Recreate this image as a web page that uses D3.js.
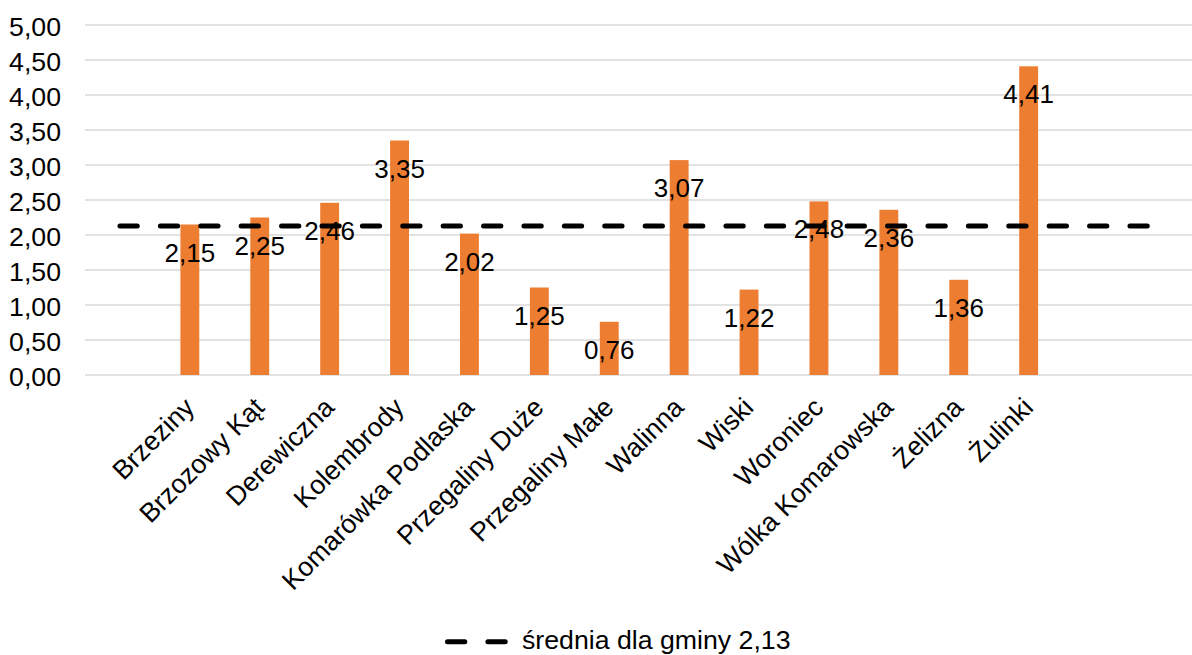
<!DOCTYPE html>
<html>
<head>
<meta charset="utf-8">
<script src="https://cdn.jsdelivr.net/npm/d3@7"></script>
<style>
  html, body { margin: 0; padding: 0; background: #fff; }
  svg { display: block; font-family: "Liberation Sans", Arial, sans-serif; }
</style>
</head>
<body>
<svg id="chart" width="1192" height="655"></svg>
<script>
const categories = ["Brzeziny", "Brzozowy Kąt", "Derewiczna", "Kolembrody", "Komarówka Podlaska",
  "Przegaliny Duże", "Przegaliny Małe", "Walinna", "Wiski", "Woroniec", "Wólka Komarowska",
  "Żelizna", "Żulinki"];
const values = [2.15, 2.25, 2.46, 3.35, 2.02, 1.25, 0.76, 3.07, 1.22, 2.48, 2.36, 1.36, 4.41];
const averageValue = 2.13;
const averageLabel = "średnia dla gminy 2,13";
const yTicks = [0, 0.5, 1, 1.5, 2, 2.5, 3, 3.5, 4, 4.5, 5];
const padBefore = ["pad0"];
const padAfter = ["pad1", "pad2"];

const locale = d3.formatLocale({ decimal: ",", thousands: " ", grouping: [3], currency: ["", " zł"] });
const fmt = locale.format(".2f");

const svg = d3.select("#chart");
const fontSize = 26.7;
const valueFontSize = 26;
const orange = "#ED7D31";

const plotLeft = 85, plotTop = 25, plotBottom = 375;
const slot = 69.9;
const domain = [...padBefore, ...categories, ...padAfter];
const x = d3.scaleBand().domain(domain).range([plotLeft, plotLeft + slot * domain.length]).padding(0);
const y = d3.scaleLinear().domain([0, 5]).range([plotBottom, plotTop]);

// gridlines
svg.append("g").selectAll("line").data(yTicks).join("line")
  .attr("x1", x.range()[0]).attr("x2", x.range()[1])
  .attr("y1", d => y(d)).attr("y2", d => y(d))
  .attr("stroke", "#D9D9D9").attr("stroke-width", 1.3);

// y axis labels
const yAxis = d3.axisLeft(y).tickValues(yTicks).tickFormat(fmt).tickSize(0).tickPadding(0);
const yg = svg.append("g").attr("transform", `translate(61,0)`).call(yAxis);
yg.select(".domain").remove();
yg.selectAll("text").attr("font-size", fontSize).attr("font-family", "Liberation Sans, Arial, sans-serif")
  .attr("fill", "#000").attr("dy", "0.4em");

// bars
const barW = x.bandwidth() * 0.27;
const data = categories.map((c, i) => ({ c, v: values[i] }));
svg.append("g").selectAll("rect").data(data).join("rect")
  .attr("x", d => x(d.c) + x.bandwidth() / 2 - barW / 2)
  .attr("width", barW)
  .attr("y", d => y(d.v))
  .attr("height", d => y(0) - y(d.v))
  .attr("fill", orange);

// average dashed line
const lineData = [domain[0], domain[domain.length - 1]].map(k => ({ k, v: averageValue }));
const line = d3.line().x(d => x(d.k) + x.bandwidth() / 2).y(d => y(d.v));
svg.append("path").datum(lineData).attr("d", line)
  .attr("fill", "none").attr("stroke", "#000").attr("stroke-width", 5)
  .attr("stroke-linecap", "round").attr("stroke-dasharray", "17.3,23.1");

// value labels
svg.append("g").selectAll("text").data(data).join("text")
  .attr("x", d => x(d.c) + x.bandwidth() / 2)
  .attr("y", d => y(d.v) + 37)
  .attr("text-anchor", "middle")
  .attr("font-size", valueFontSize)
  .attr("fill", "#000")
  .text(d => fmt(d.v));

// x labels rotated
const xAxis = d3.axisBottom(x).tickValues(categories).tickSize(0).tickPadding(0);
const xg = svg.append("g").attr("transform", `translate(0,${plotBottom})`).call(xAxis);
xg.select(".domain").remove();
xg.selectAll("text")
  .attr("font-size", fontSize).attr("font-family", "Liberation Sans, Arial, sans-serif")
  .attr("fill", "#000")
  .attr("text-anchor", "end")
  .attr("dy", null).attr("y", null)
  .attr("transform", "translate(6,34) rotate(-45)");

// legend
const legend = svg.append("g");
legend.append("line").attr("x1", 447.5).attr("x2", 507).attr("y1", 641.7).attr("y2", 641.7)
  .attr("stroke", "#000").attr("stroke-width", 5).attr("stroke-linecap", "round")
  .attr("stroke-dasharray", "17.3,23.1");
legend.append("text").attr("x", 522).attr("y", 649)
  .attr("font-size", fontSize).attr("fill", "#000").text(averageLabel);
</script>
</body>
</html>
